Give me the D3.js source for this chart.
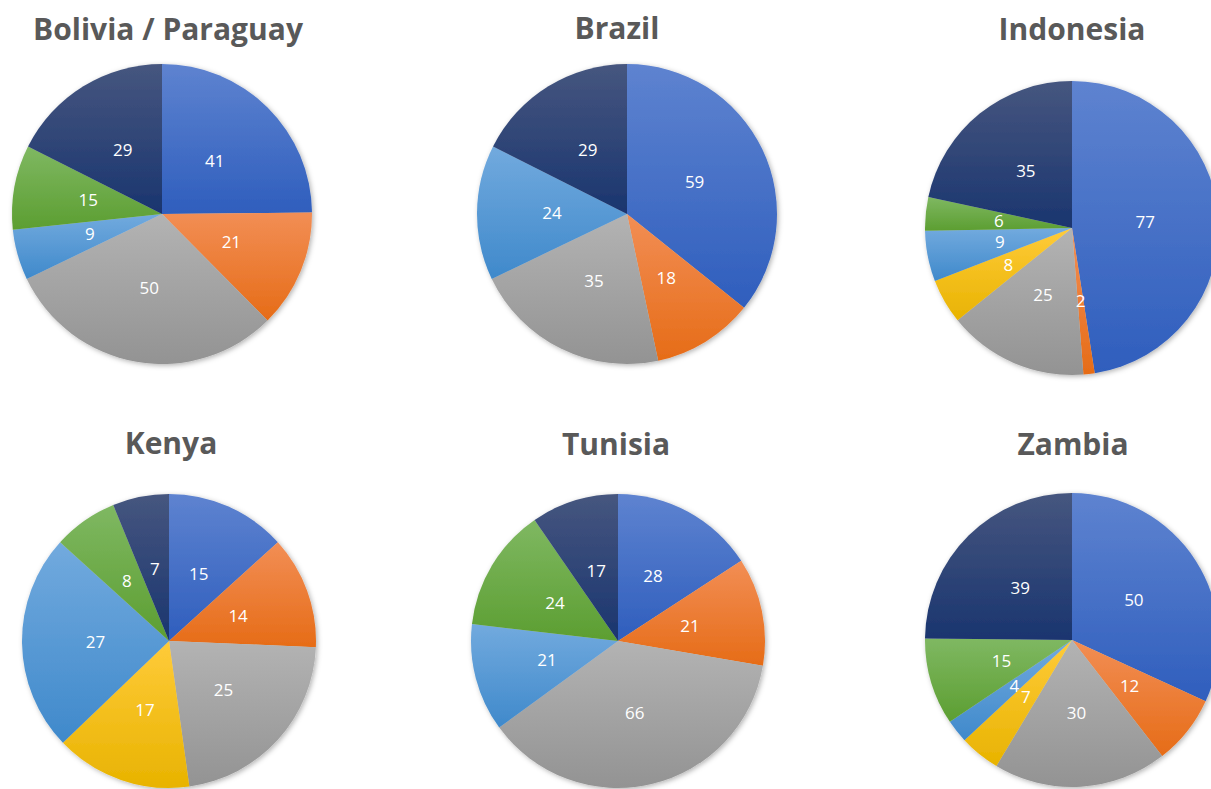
<!DOCTYPE html>
<html>
<head>
<meta charset="utf-8">
<script src="https://cdn.jsdelivr.net/npm/d3@7"></script>
<style>
  body { margin: 0; background: #fff; }
  svg { display: block; }
</style>
</head>
<body>
<script>
const width = 1211;
const height = 789;

// Data; slices run clockwise from 12 o'clock
const categories = ['cat1', 'cat2', 'cat3', 'cat4', 'cat5', 'cat6', 'cat7'];
const countries = ['Bolivia / Paraguay', 'Brazil', 'Indonesia', 'Kenya', 'Tunisia', 'Zambia'];
const boliviaValues = [41, 21, 50, 0, 9, 15, 29];
const brazilValues = [59, 18, 35, 0, 24, 0, 29];
const indonesiaValues = [77, 2, 25, 8, 9, 6, 35];
const kenyaValues = [15, 14, 25, 17, 27, 8, 7];
const tunisiaValues = [28, 21, 66, 0, 21, 24, 17];
const zambiaValues = [50, 12, 30, 7, 4, 15, 39];

const allValues = [boliviaValues, brazilValues, indonesiaValues, kenyaValues, tunisiaValues, zambiaValues];

// Gradient (top -> bottom) per category, Office-like palette
const colorTop = ['#5E83D0', '#F28E55', '#B3B3B3', '#FFCB3A', '#72AADE', '#7FB862', '#46567F'];
const colorBottom = ['#2F5EBD', '#E66C17', '#939393', '#E8B300', '#3F89CB', '#5C9E31', '#1A356F'];

// panel layout: pie centre, radius, title position
const panels = [
    { cx: 162, cy: 214, r: 150, tx: 168, ty: 40 },
    { cx: 627, cy: 214, r: 150, tx: 617, ty: 39 },
    { cx: 1072, cy: 228, r: 147, tx: 1072, ty: 40 },
    { cx: 169, cy: 641, r: 147, tx: 171, ty: 454 },
    { cx: 618, cy: 641, r: 147, tx: 616, ty: 455 },
    { cx: 1072, cy: 640, r: 147, tx: 1073, ty: 455 }
];

const svg = d3.select('body').append('svg')
    .attr('width', width)
    .attr('height', height);

const defs = svg.append('defs');

categories.forEach((c, i) => {
    const grad = defs.append('linearGradient')
        .attr('id', 'grad-' + i)
        .attr('x1', 0).attr('y1', 0)
        .attr('x2', 0).attr('y2', 1);
    grad.append('stop').attr('offset', '0%').attr('stop-color', colorTop[i]);
    grad.append('stop').attr('offset', '100%').attr('stop-color', colorBottom[i]);
});

const shadow = defs.append('filter')
    .attr('id', 'shadow')
    .attr('x', '-10%').attr('y', '-10%')
    .attr('width', '120%').attr('height', '120%');
shadow.append('feDropShadow')
    .attr('dx', 1.5).attr('dy', 1.5)
    .attr('stdDeviation', 2.5)
    .attr('flood-color', '#000')
    .attr('flood-opacity', 0.3);

const pie = d3.pie().sort(null).value(d => d.value);

countries.forEach((country, k) => {
    const p = panels[k];
    const data = allValues[k].map((v, i) => ({ cat: i, value: v }));
    const arcs = pie(data);

    const arc = d3.arc().innerRadius(0).outerRadius(p.r);

    // title
    svg.append('text')
        .attr('x', p.tx)
        .attr('y', p.ty)
        .attr('text-anchor', 'middle')
        .attr('font-family', '"Open Sans", sans-serif')
        .attr('font-weight', 'bold')
        .attr('font-size', '30px')
        .attr('fill', '#595959')
        .text(country);

    const g = svg.append('g')
        .attr('transform', `translate(${p.cx},${p.cy})`);

    g.append('g')
        .attr('filter', 'url(#shadow)')
        .selectAll('path')
        .data(arcs.filter(d => d.data.value > 0))
        .enter().append('path')
        .attr('d', arc)
        .attr('fill', d => `url(#grad-${d.data.cat})`);

    // value labels at the middle of each slice
    g.selectAll('text')
        .data(arcs.filter(d => d.data.value > 0))
        .enter().append('text')
        .attr('transform', d => `translate(${arc.centroid(d)})`)
        .attr('dy', '0.35em')
        .attr('text-anchor', 'middle')
        .attr('font-family', '"Open Sans", sans-serif')
        .attr('font-size', '17px')
        .attr('fill', '#fff')
        .text(d => d.data.value);
});
</script>
</body>
</html>
